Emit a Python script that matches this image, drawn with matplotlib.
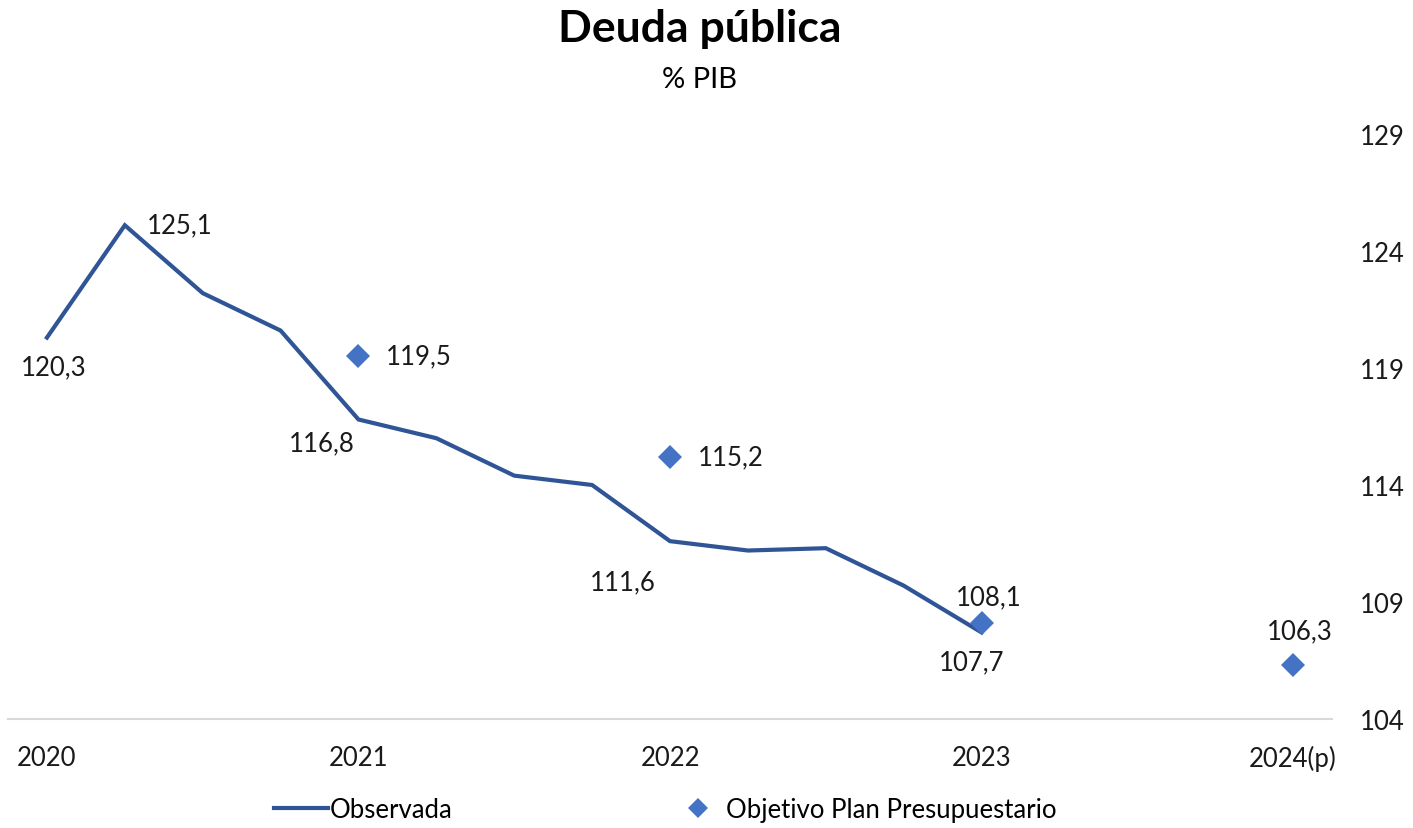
import numpy as np
import matplotlib.pyplot as plt
from matplotlib.lines import Line2D

plt.rcParams['font.family'] = ['Lato', 'DejaVu Sans']

# quarterly positions, 2020 .. 2024(p)
year_labels = ['2020', '2021', '2022', '2023', '2024(p)']
observada = [120.3, 125.1, 122.2, 120.6, 116.8, 116.0, 114.4, 114.0,
             111.6, 111.2, 111.3, 109.7, 107.7]
objetivo_pos = [4, 8, 12, 16]
objetivo = [119.5, 115.2, 108.1, 106.3]

line_color = '#2F5597'
diamond_color = '#4472C4'
text_color = '#1a1a1a'
fs = 18.5

fig = plt.figure(figsize=(14.13, 8.29), dpi=100)
ax = fig.add_axes([8 / 1413, (829 - 720) / 829, 1324 / 1413, 585 / 829])

x = np.arange(len(observada))
ax.plot(x, observada, color=line_color, lw=3, solid_joinstyle='miter')
ax.plot(objetivo_pos, objetivo, linestyle='none', marker='D', ms=12,
        color=diamond_color, markeredgewidth=0)

ax.set_xlim(-0.5, 16.5)
ax.set_ylim(104, 129)

# data labels on the line (yearly points only)
ax.annotate('120,3', (0, observada[0]), xytext=(-19, -12), textcoords='offset points',
            fontsize=fs, color=text_color, va='top', ha='left')
ax.annotate('125,1', (1, observada[1]), xytext=(16, 0), textcoords='offset points',
            fontsize=fs, color=text_color, va='center', ha='left')
ax.annotate('116,8', (4, observada[4]), xytext=(-3, -8), textcoords='offset points',
            fontsize=fs, color=text_color, va='top', ha='right')
ax.annotate('111,6', (8, observada[8]), xytext=(-10, -20), textcoords='offset points',
            fontsize=fs, color=text_color, va='top', ha='right')
ax.annotate('107,7', (12, observada[12]), xytext=(-7, -12), textcoords='offset points',
            fontsize=fs, color=text_color, va='top', ha='center')

# labels for the objective points
for p, v in zip(objetivo_pos[:2], objetivo[:2]):
    ax.annotate(f'{v:.1f}'.replace('.', ','), (p, v), xytext=(20, 0),
                textcoords='offset points', fontsize=fs, color=text_color,
                va='center', ha='left')
ax.annotate('108,1', (12, objetivo[2]), xytext=(5, 10), textcoords='offset points',
            fontsize=fs, color=text_color, va='bottom', ha='center')
ax.annotate('106,3', (16, objetivo[3]), xytext=(5, 16), textcoords='offset points',
            fontsize=fs, color=text_color, va='bottom', ha='center')

# axes styling
ax.yaxis.tick_right()
ax.set_yticks(np.arange(104, 130, 5))
ax.set_xticks([0, 4, 8, 12, 16])
ax.set_xticklabels(year_labels)
ax.tick_params(axis='y', length=0, pad=20, labelsize=fs, labelcolor=text_color)
ax.tick_params(axis='x', length=0, pad=19, labelsize=fs, labelcolor=text_color)
for s in ('top', 'left', 'right'):
    ax.spines[s].set_visible(False)
ax.spines['bottom'].set_color('#D9D9D9')
ax.spines['bottom'].set_linewidth(1.5)

fig.text(0.495, 0.965, 'Deuda pública', ha='center', va='center',
         fontsize=32, fontweight='bold', color='black')
fig.text(0.495, 0.903, '% PIB', ha='center', va='center', fontsize=21, color='black')

handles = [Line2D([0], [0], color=line_color, lw=3),
           Line2D([0], [0], linestyle='none', marker='D', ms=10,
                  color=diamond_color, markeredgewidth=0)]
fig.legend(handles, ['Observada', 'Objetivo Plan Presupuestario'],
           loc='center', bbox_to_anchor=(0.471, 0.022), ncol=2, frameon=False,
           fontsize=fs, handlelength=2.1, handletextpad=0.05, columnspacing=8.5)

fig.savefig('out.png', dpi=100)
